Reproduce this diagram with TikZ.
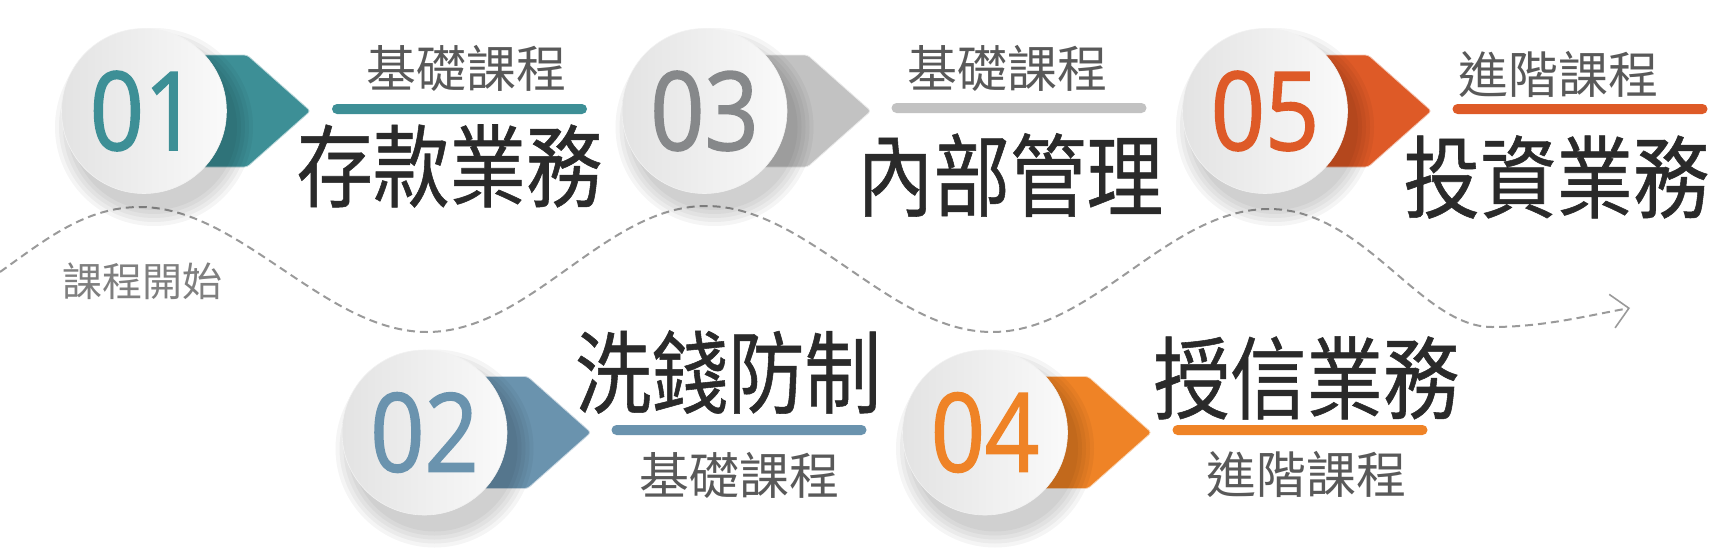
\documentclass[tikz,border=0pt]{standalone}
\usepackage{fontspec}
\usepackage{tikz}
\usetikzlibrary{arrows.meta, shapes.symbols, calc}
\newfontfamily\zhfont{Noto Sans CJK TC}
\newfontfamily\zhwide[FakeStretch=0.85, FakeBold=0.6]{Noto Sans CJK TC}
\newfontfamily\numfont[FakeStretch=0.87, FakeBold=1.4]{Open Sans}
\definecolor{stepteal}{HTML}{3D8F96}
\definecolor{stepblue}{HTML}{6A93AE}
\definecolor{stepgray}{HTML}{C2C2C2}
\definecolor{stepgraynum}{HTML}{86888A}
\definecolor{steporange}{HTML}{EF8326}
\definecolor{stepred}{HTML}{DE5A27}
\definecolor{subgray}{HTML}{595959}
\definecolor{titleblack}{HTML}{2A2A2A}
\definecolor{wavegray}{HTML}{9A9A9A}
\definecolor{startgray}{HTML}{7F7F7F}
% soft shadow under a disc
\newcommand{\discshadow}[1]{\foreach \r in {99,95,...,83}{\fill[black, opacity=0.04] ($(#1)+(10,16)$) circle (\r pt);}}

\begin{document}
\begin{tikzpicture}[
    x=1pt, y=-1pt,
    disc/.style={circle, minimum size=165pt, inner sep=0pt, left color=black!11, right color=black!2,
                 draw=black!5, line width=0.6pt, text=#1, font=\numfont\fontsize{109}{109}\selectfont},
    tag/.style={signal, signal to=east, signal pointer angle=83, minimum width=166pt, minimum height=112pt,
                inner sep=0pt, anchor=west, fill=#1, draw=#1!35!white, line width=0.8pt, rounded corners=3pt},
    bar/.style={rectangle, rounded corners=5pt, fill=#1, minimum width=255pt, minimum height=10pt, inner sep=0pt},
    sub/.style={inner sep=0pt, text=subgray, font=\zhfont\fontsize{50}{50}\selectfont},
    title/.style={inner sep=0pt, text=titleblack, font=\zhwide\fontsize{90}{90}\selectfont},
    wave/.style={draw=wavegray, line width=2pt, dash pattern=on 8pt off 5pt,
                 -{Straight Barb[length=17pt, width=34pt, line width=1.6pt]}}
  ]
    \useasboundingbox (0,0) rectangle (1730,555);

    % dashed path through the course
    \coordinate (wstart) at (0,272);
    \coordinate (wend) at (1630,308);
    \draw[wave] (wstart) .. controls (45,240) and (85,207) .. (140,207)
      .. controls (240,207) and (325,332) .. (427,332)
      .. controls (530,332) and (605,206) .. (706,206)
      .. controls (808,206) and (890,332) .. (992,332)
      .. controls (1093,332) and (1168,209) .. (1269,209)
      .. controls (1365,209) and (1420,327) .. (1492,327)
      .. controls (1545,327) and (1590,315) .. (wend);
    \node[inner sep=0pt, text=startgray, font=\zhfont\fontsize{40}{40}\selectfont] (start) at (142,281) {課程開始};

    % step centres
    \coordinate (p1) at (144,111);
    \coordinate (p2) at (424.5,432.5);
    \coordinate (p3) at (704.5,111);
    \coordinate (p4) at (985,432.5);
    \coordinate (p5) at (1265,111);

    % 01
    \node[tag=stepteal] (a1) at (p1) {};
    \discshadow{p1}
    \node[disc=stepteal] (c1) at (p1) {01};
    \node[sub] (s1) at (466,68) {基礎課程};
    \node[bar=stepteal] (b1) at (459.5,109) {};
    \node[title] (t1) at (449.5,166) {存款業務};

    % 02
    \node[tag=stepblue] (a2) at (p2) {};
    \discshadow{p2}
    \node[disc=stepblue] (c2) at (p2) {02};
    \node[title] (t2) at (728,372) {洗錢防制};
    \node[bar=stepblue] (b2) at (739,430) {};
    \node[sub] (s2) at (739.5,475) {基礎課程};

    % 03
    \node[tag=stepgray] (a3) at (p3) {};
    \discshadow{p3}
    \node[disc=stepgraynum] (c3) at (p3) {03};
    \node[sub] (s3) at (1007,68) {基礎課程};
    \node[bar=stepgray] (b3) at (1019,108) {};
    \node[title] (t3) at (1010,175) {內部管理};

    % 04
    \node[tag=steporange] (a4) at (p4) {};
    \discshadow{p4}
    \node[disc=steporange] (c4) at (p4) {04};
    \node[title] (t4) at (1306.5,378) {授信業務};
    \node[bar=steporange] (b4) at (1300,430) {};
    \node[sub] (s4) at (1306.5,474) {進階課程};

    % 05
    \node[tag=stepred] (a5) at (p5) {};
    \discshadow{p5}
    \node[disc=stepred] (c5) at (p5) {05};
    \node[sub] (s5) at (1558,74) {進階課程};
    \node[bar=stepred] (b5) at (1580,109) {};
    \node[title] (t5) at (1556.5,177) {投資業務};
  \end{tikzpicture}
\end{document}
